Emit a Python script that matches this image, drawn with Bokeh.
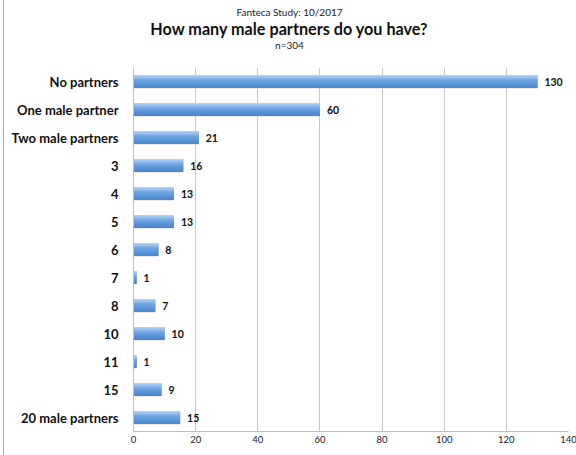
from bokeh.plotting import figure
from bokeh.layouts import column
from bokeh.models import FactorRange, Range1d, ColumnDataSource
from bokeh.transform import dodge
from bokeh.embed import file_html
from bokeh.resources import INLINE
from bokeh.core.properties import value

categories = ["No partners", "One male partner", "Two male partners", "3", "4", "5",
              "6", "7", "8", "10", "11", "15", "20 male partners"]
counts = [130, 60, 21, 16, 13, 13, 8, 1, 7, 10, 1, 9, 15]
x_ticks = [0, 20, 40, 60, 80, 100, 120, 140]
title_texts = ["Fanteca Study: 10/2017", "How many male partners do you have?", "n=304"]

FONT = "Lato"
W = 573
LB, RB = 129, 9

# ---- header (titles) drawn in a strip whose x range is in canvas pixels ----
head = figure(width=W, height=67, output_backend="svg", toolbar_location=None,
              x_range=Range1d(LB, W - RB), y_range=Range1d(67, 0),
              x_axis_location=None, y_axis_location=None,
              min_border_left=LB, min_border_right=RB, min_border_top=0,
              min_border_bottom=0, title=None)
head.grid.grid_line_color = None
head.outline_line_color = None
head.text(x=[285], y=[11], text=[title_texts[0]], text_align="center",
          text_baseline="middle", text_font=value(FONT), text_font_size="10px",
          text_color="#222222")
head.text(x=[285], y=[28], text=[title_texts[1]], text_align="center",
          text_baseline="middle", text_font=value(FONT), text_font_size="16.2px",
          text_font_style="bold", text_color="#111111")
head.text(x=[285], y=[44], text=[title_texts[2]], text_align="center",
          text_baseline="middle", text_font=value(FONT), text_font_size="10px",
          text_color="#222222")

# ---- bar chart ----
src = ColumnDataSource(dict(cat=categories, n=counts, lbl=[str(c) for c in counts]))

p = figure(width=W, height=388, output_backend="svg", toolbar_location=None,
           title=None,
           y_range=FactorRange(factors=list(reversed(categories))),
           x_range=(0, 140), min_border_left=LB, min_border_right=RB,
           min_border_top=0, min_border_bottom=24)

# gradient bars built from thin overlapping strips (light top -> darker bottom)
top_rgb = (0xb0, 0xd0, 0xf4)
mid_rgb = (0x6c, 0xa4, 0xe2)
bot_rgb = (0x4e, 0x88, 0xcb)
n_strips = 12
strip_colors = []
for i in range(n_strips):
    t = i / (n_strips - 1)
    if t < 0.45:
        a, b, u = top_rgb, mid_rgb, t / 0.45
    else:
        a, b, u = mid_rgb, bot_rgb, (t - 0.45) / 0.55
    strip_colors.append("#%02x%02x%02x" % tuple(int(a[k] + (b[k] - a[k]) * u) for k in range(3)))
bar_h = 0.44
sh = bar_h / n_strips
p.hbar(y=dodge("cat", -0.03, range=p.y_range), right="n", left=0, height=bar_h,
       source=src, fill_color="#d4d4d4", line_color=None)
p.hbar(y="cat", right="n", left=0, height=bar_h, source=src,
       fill_color="#6ca4e2", line_color=None)
for i, c in enumerate(strip_colors):
    off = bar_h / 2 - sh * (i + 0.5)
    p.hbar(y=dodge("cat", off, range=p.y_range), right="n", left=0, height=sh * 1.5,
           source=src, fill_color=c, line_color=None)

p.text(x="n", y="cat", text="lbl", source=src, x_offset=7, text_baseline="middle",
       text_align="left", text_font=value(FONT), text_font_size="10.5px",
       text_font_style="bold", text_color="#111111")

p.xgrid.grid_line_color = "#c8c8c8"
p.ygrid.grid_line_color = None
p.xaxis.ticker = x_ticks
p.xaxis.axis_line_color = "#bfbfbf"
p.xaxis.major_tick_line_color = None
p.xaxis.major_tick_out = 0
p.xaxis.major_tick_in = 0
p.xaxis.minor_tick_line_color = None
p.xaxis.major_label_text_font = FONT
p.xaxis.major_label_text_font_size = "9.5px"
p.xaxis.major_label_text_color = "#222222"
p.xaxis.major_label_standoff = 4
p.yaxis.axis_line_color = "#bfbfbf"
p.yaxis.major_tick_line_color = None
p.yaxis.major_tick_out = 0
p.yaxis.major_tick_in = 0
p.yaxis.minor_tick_line_color = None
p.yaxis.major_label_text_font = FONT
p.yaxis.major_label_text_font_size = "13px"
p.yaxis.major_label_text_font_style = "bold"
p.yaxis.major_label_text_color = "#111111"
p.yaxis.major_label_standoff = 15
p.outline_line_color = None

page = column(head, p, spacing=0)
page.margin = (0, 0, 0, 3)
page.styles = {"border-left": "1px solid #a6a6a6"}

open("out.html", "w").write(file_html(page, INLINE))
